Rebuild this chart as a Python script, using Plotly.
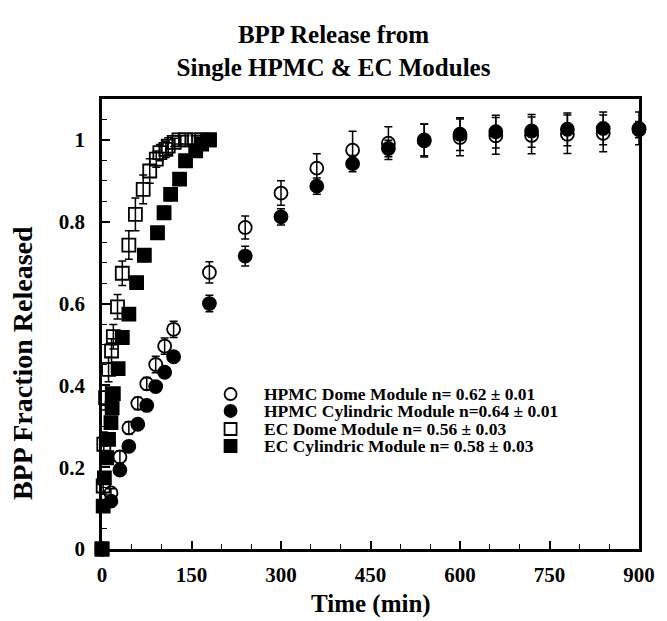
import plotly.graph_objects as go

# ---------------- data ----------------
hpmc_time = [0, 15, 30, 45, 60, 75, 90, 105, 120, 180, 240, 300, 360, 420, 480, 540, 600, 660, 720, 780, 840, 900]
hpmc_dome = [0, 0.137, 0.225, 0.296, 0.356, 0.404, 0.451, 0.496, 0.537, 0.676, 0.786, 0.870, 0.931, 0.975, 0.992, 0.998, 1.006, 1.010, 1.011, 1.014, 1.016, 1.025]
hpmc_dome_err = [0, 0.010, 0.015, 0.015, 0.015, 0.015, 0.020, 0.020, 0.020, 0.026, 0.028, 0.030, 0.035, 0.046, 0.040, 0.040, 0.045, 0.045, 0.045, 0.047, 0.045, 0.020]
hpmc_cyl = [0, 0.117, 0.193, 0.251, 0.305, 0.351, 0.397, 0.432, 0.470, 0.600, 0.716, 0.812, 0.887, 0.942, 0.979, 1.000, 1.014, 1.020, 1.022, 1.026, 1.028, 1.028]
hpmc_cyl_err = [0, 0.010, 0.010, 0.010, 0.010, 0.010, 0.010, 0.010, 0.010, 0.020, 0.024, 0.020, 0.020, 0.020, 0.020, 0.039, 0.040, 0.040, 0.040, 0.040, 0.040, 0.040]

ec_dome_time = [0, 2, 3, 6, 11, 16, 19, 26, 34, 45, 56, 69, 80, 91, 97, 107, 111, 121, 129, 140, 155, 167, 180]
ec_dome = [0, 0.154, 0.256, 0.370, 0.439, 0.484, 0.519, 0.592, 0.674, 0.743, 0.818, 0.879, 0.924, 0.953, 0.969, 0.977, 0.985, 0.994, 1.000, 1.000, 1.000, 1.000, 1.000]
ec_dome_err = [0, 0.020, 0.030, 0.030, 0.030, 0.030, 0.030, 0.030, 0.030, 0.035, 0.040, 0.035, 0.030, 0.020, 0.020, 0.020, 0.020, 0.010, 0.010, 0.010, 0.010, 0.010, 0.010]

ec_cyl_time = [0, 2, 4, 8, 11, 15, 17, 19, 27, 34, 45, 58, 71, 93, 104, 115, 130, 140, 157, 167, 180]
ec_cyl = [0, 0.105, 0.174, 0.223, 0.268, 0.309, 0.345, 0.380, 0.441, 0.517, 0.574, 0.651, 0.718, 0.773, 0.822, 0.867, 0.904, 0.949, 0.973, 0.990, 1.000]
ec_cyl_err = [0, 0.010, 0.010, 0.010, 0.010, 0.010, 0.010, 0.010, 0.010, 0.010, 0.015, 0.015, 0.015, 0.015, 0.015, 0.015, 0.015, 0.010, 0.010, 0.010, 0.010]

legend_labels = [
    "HPMC Dome Module n= 0.62 \u00b1 0.01",
    "HPMC Cylindric Module n=0.64 \u00b1 0.01",
    "EC Dome Module n= 0.56 \u00b1 0.03",
    "EC Cylindric Module n= 0.58 \u00b1 0.03",
]
x_ticks = [0, 150, 300, 450, 600, 750, 900]
y_ticks = [0, 0.2, 0.4, 0.6, 0.8, 1.0]
y_tick_labels = ["0", "0.2", "0.4", "0.6", "0.8", "1"]

title_text = "BPP Release from<br>Single HPMC &amp; EC Modules"
x_title = "Time (min)"
y_title = "BPP Fraction Released"

# ---------------- figure ----------------
FONT = "Liberation Serif, Times New Roman, serif"
series = [
    (hpmc_time, hpmc_dome, hpmc_dome_err, "circle-open", 13),
    (hpmc_time, hpmc_cyl, hpmc_cyl_err, "circle", 13),
    (ec_dome_time, ec_dome, ec_dome_err, "square-open", 13),
    (ec_cyl_time, ec_cyl, ec_cyl_err, "square", 13),
]

fig = go.Figure()
for (t, v, e, sym, sz), name in zip(series, legend_labels):
    fig.add_trace(go.Scatter(
        x=t, y=v, mode="markers", name=name, showlegend=False,
        cliponaxis=False,
        marker=dict(symbol=sym, size=sz, color="black", line=dict(color="black", width=1.8)),
        error_y=dict(type="data", array=e, visible=True, color="black", thickness=1.5, width=4),
    ))

# legend drawn as text + shapes (compact rows like the original)
leg_x_sym = 0.2394
leg_x_txt = 0.2985
leg_rows = [0.3444, 0.3067, 0.2667, 0.2289]
leg_shapes = [("circle", "white"), ("circle", "black"), ("rect", "white"), ("rect", "black")]
for label, yrow, (shp, fill) in zip(legend_labels, leg_rows, leg_shapes):
    fig.add_annotation(x=leg_x_txt, y=yrow, xref="paper", yref="paper", text="<b>%s</b>" % label,
                       showarrow=False, xanchor="left", yanchor="middle",
                       font=dict(family=FONT, size=17.5, color="black"))
    fig.add_shape(type=shp, xref="paper", yref="paper", xsizemode="pixel", ysizemode="pixel",
                  xanchor=leg_x_sym, yanchor=yrow, x0=-6, x1=6, y0=-6, y1=6,
                  line=dict(color="black", width=1.8), fillcolor=fill)

fig.add_annotation(x=0.5, y=-0.122, xref="paper", yref="paper", text="<b>%s</b>" % x_title,
                   showarrow=False, xanchor="center", yanchor="middle",
                   font=dict(family=FONT, size=25, color="black"))
fig.add_annotation(x=-0.148, y=0.412, xref="paper", yref="paper", text="<b>%s</b>" % y_title,
                   showarrow=False, xanchor="center", yanchor="middle", textangle=-90,
                   font=dict(family=FONT, size=28, color="black"))

axis_common = dict(showline=True, linewidth=2.5, linecolor="black", mirror=True,
                   ticks="inside", ticklen=8, tickwidth=1.5, tickcolor="black",
                   showgrid=False, zeroline=False,
                   tickfont=dict(family=FONT, size=21, color="black"))

fig.update_xaxes(range=[0, 900], tickvals=x_ticks,
                 ticktext=["<b>%d</b>" % v for v in x_ticks], ticklabelstandoff=5,
                 minor=dict(dtick=50, ticks="inside", ticklen=5, tickwidth=1.2, tickcolor="black"),
                 **axis_common)
fig.update_yaxes(range=[0, 1.1], tickvals=y_ticks,
                 ticktext=["<b>%s</b>" % s for s in y_tick_labels], ticklabelstandoff=10,
                 minor=dict(dtick=0.05, ticks="inside", ticklen=5, tickwidth=1.2, tickcolor="black"),
                 **axis_common)

fig.update_layout(
    width=667, height=621,
    margin=dict(l=102, r=19, t=99, b=72),
    paper_bgcolor="white", plot_bgcolor="white",
    title=dict(text="<b>%s</b>" % title_text, x=0.5, xref="container", xanchor="center",
               y=0.93, yref="container", yanchor="top",
               font=dict(family=FONT, size=25, color="black")),
    showlegend=False,
)

fig.write_html("out.html")
